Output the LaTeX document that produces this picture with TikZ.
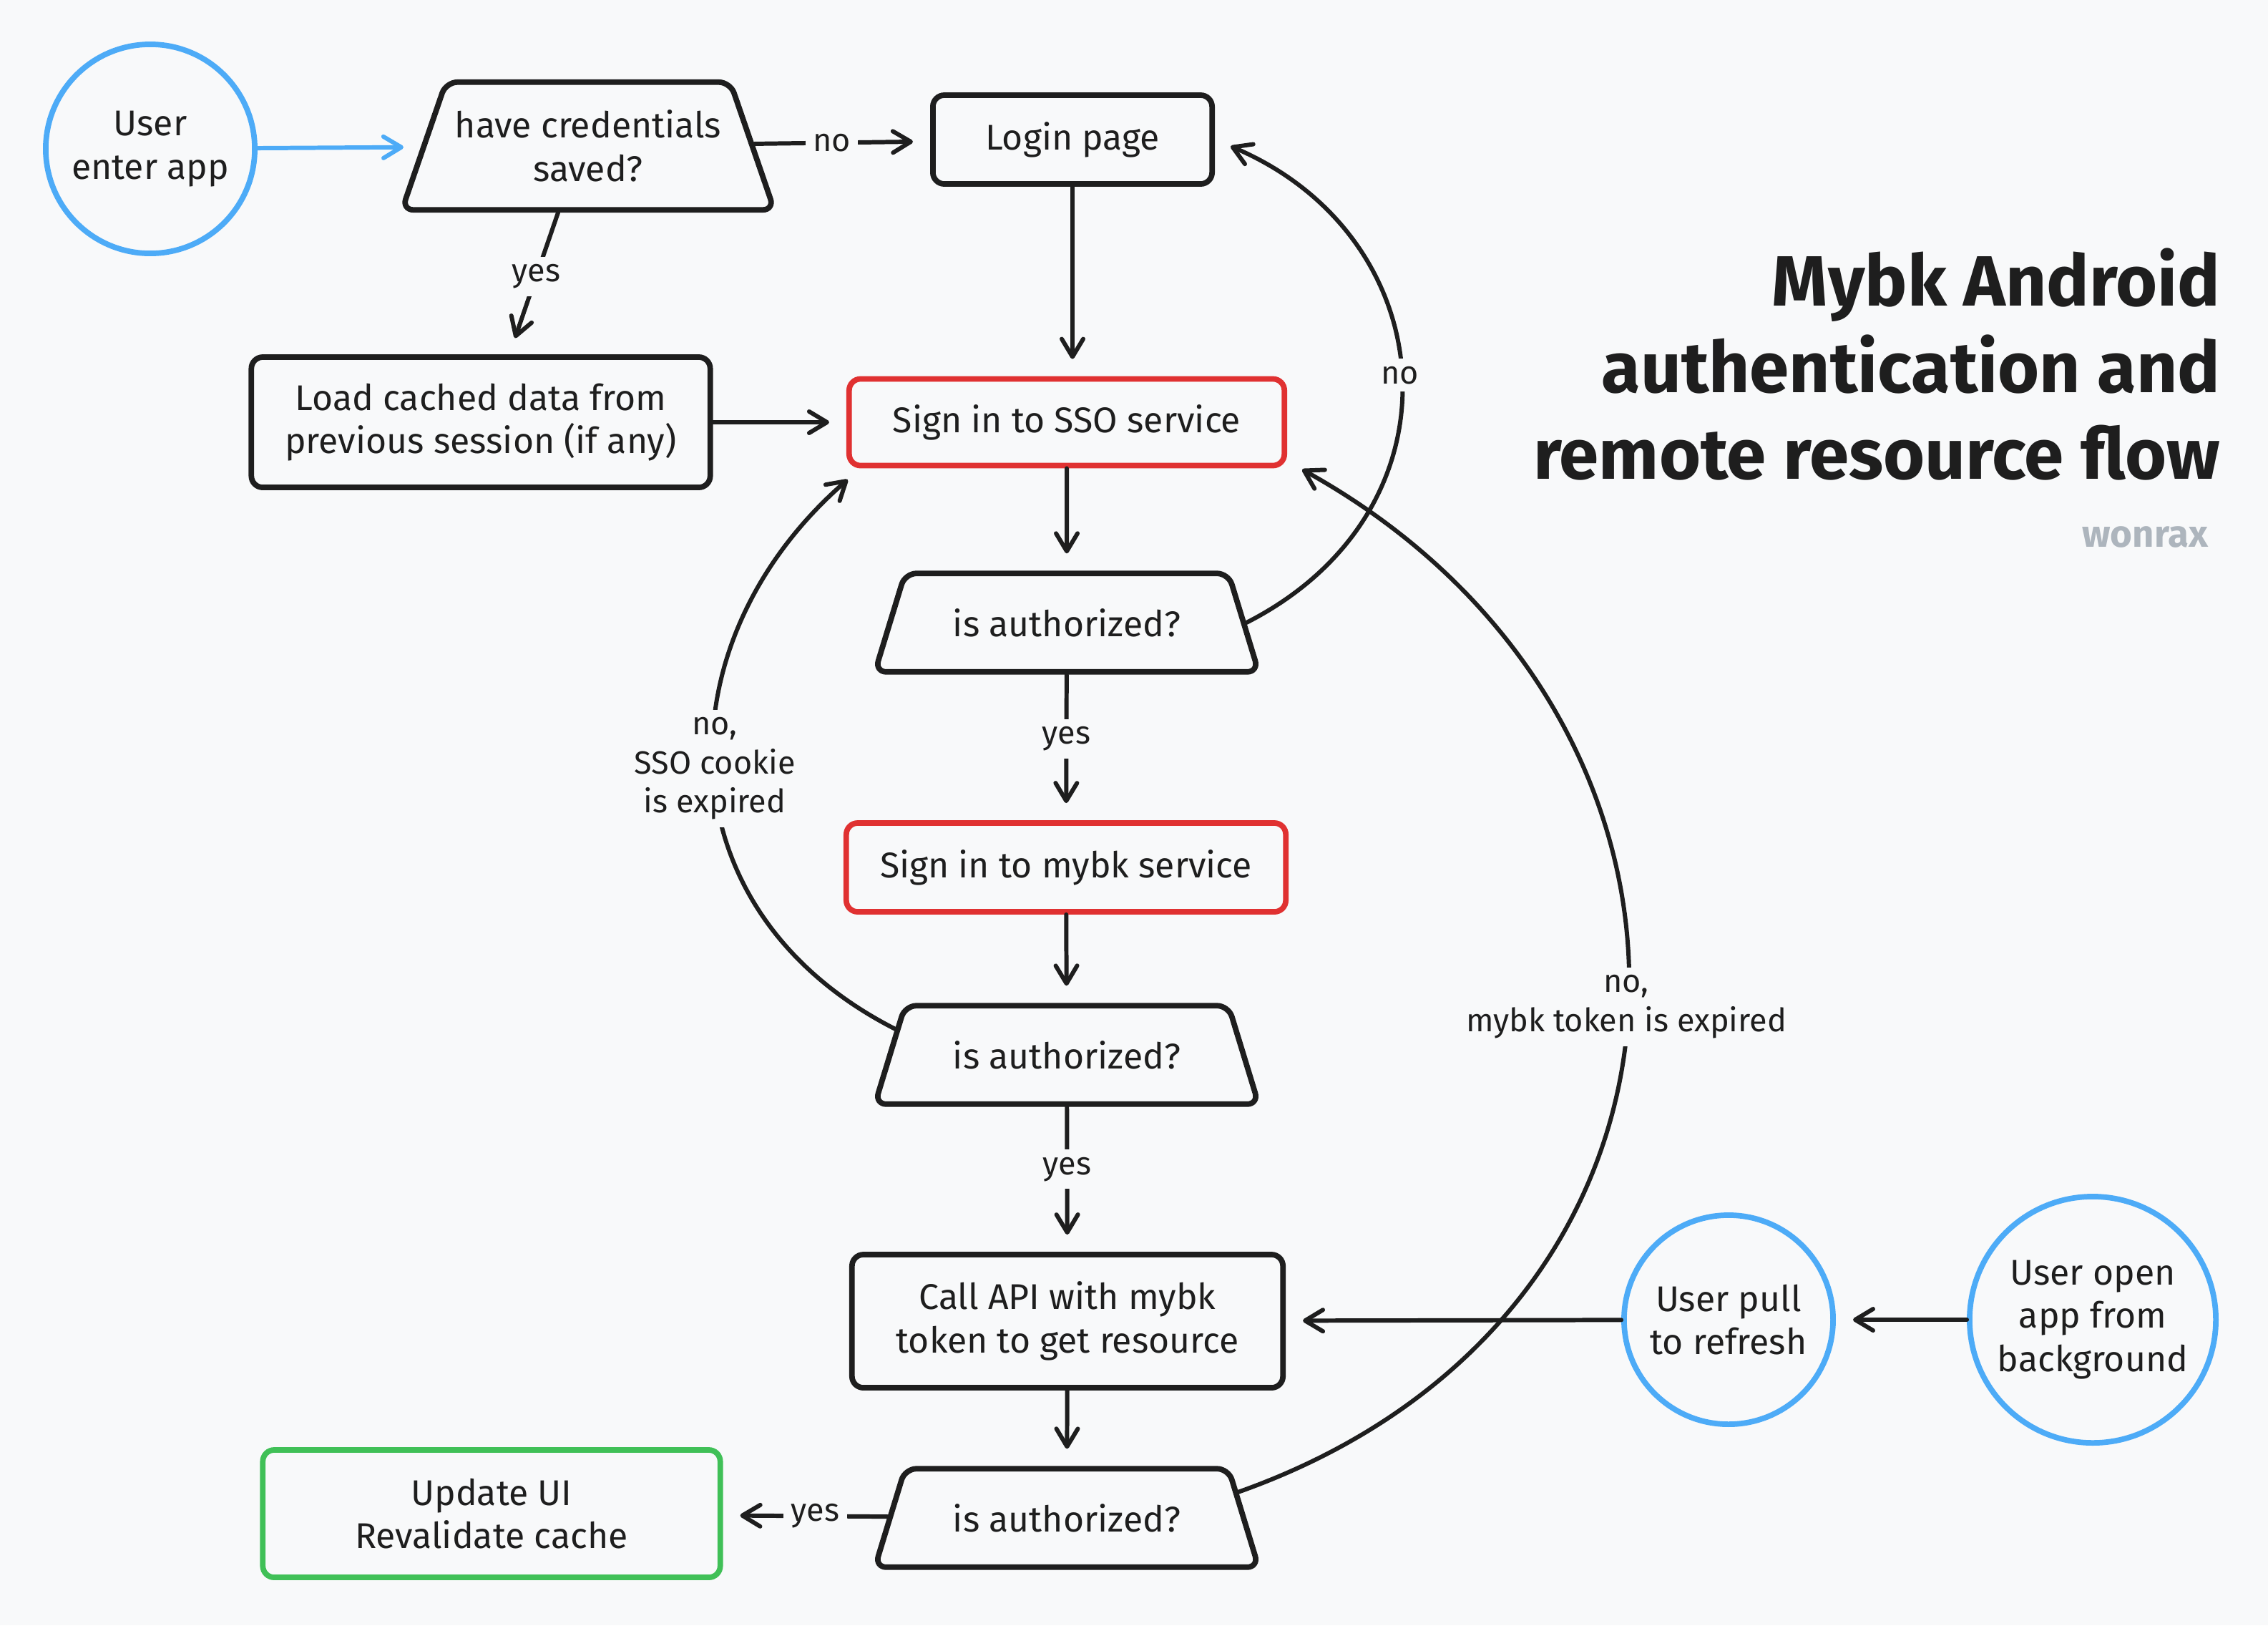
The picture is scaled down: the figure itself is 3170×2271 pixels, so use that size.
\documentclass[tikz,border=0pt]{standalone}
\usepackage{fontspec}
\setmainfont{Fira Sans}
\usetikzlibrary{shapes.geometric,arrows.meta,calc}
\definecolor{bg}{HTML}{F8F9FA}
\definecolor{ink}{HTML}{1E1E1E}
\definecolor{sred}{HTML}{E03131}
\definecolor{sgreen}{HTML}{40C057}
\definecolor{sblue}{HTML}{4DABF7}
\definecolor{sgray}{HTML}{ADB5BD}
\tikzset{
  box/.style={draw=ink, line width=2.2pt, rounded corners=0.16cm, fill=bg, align=center,
    font=\fontsize{14.2}{17.3}\selectfont, text=ink, inner sep=0pt},
  redbox/.style={box, draw=sred},
  greenbox/.style={box, draw=sgreen},
  decision/.style={box, trapezium, trapezium left angle=73, trapezium right angle=73,
    trapezium stretches body=true, inner xsep=0pt},
  startnode/.style={circle, draw=sblue, line width=2.2pt, fill=bg, align=center,
    font=\fontsize{14.2}{17.3}\selectfont, text=ink, inner sep=0pt},
  conn/.style={draw=ink, line width=1.7pt, line cap=round,
    -{Straight Barb[length=0.25cm,width=0.3cm,round]}, shorten >=0.24cm},
  lbl/.style={fill=bg, font=\fontsize{12.8}{15.5}\selectfont, text=ink, align=center, inner sep=3pt},
}
\begin{document}
\begin{tikzpicture}[x=0.01cm,y=-0.01cm]
\fill[bg] (0,0) rectangle (3170,2271);
\useasboundingbox (0,0) rectangle (3170,2271);

% nodes
\node[startnode, minimum size=2.92cm] (u1) at (210,208) {User\\enter app};
\node[decision, minimum width=5.2cm, inner ysep=0.39cm, trapezium left angle=71, trapezium right angle=71] (cred) at (822,204) {have credentials\\saved?};
\node[box, minimum width=3.9cm, minimum height=1.24cm] (login) at (1499,195) {Login page};
\node[box, minimum width=6.41cm, minimum height=1.82cm] (load) at (672,590) {Load cached data from\\previous session (if any)};
\node[redbox, minimum width=6.08cm, minimum height=1.21cm] (sso) at (1491,590) {Sign in to SSO service};
\node[decision, minimum width=5.36cm, inner ysep=0.49cm] (auth1) at (1491,870) {is authorized?};
\node[redbox, minimum width=6.14cm, minimum height=1.24cm] (mybk) at (1490,1212) {Sign in to mybk service};
\node[decision, minimum width=5.36cm, inner ysep=0.49cm] (auth2) at (1491,1474) {is authorized?};
\node[box, minimum width=6.02cm, minimum height=1.86cm] (call) at (1492,1846) {Call API with mybk\\token to get resource};
\node[decision, minimum width=5.36cm, inner ysep=0.49cm] (auth3) at (1491,2121) {is authorized?};
\node[greenbox, minimum width=6.39cm, minimum height=1.78cm] (upd) at (687,2115) {Update UI\\Revalidate cache};
\node[startnode, minimum size=2.92cm] (pull) at (2416,1844) {User pull\\to refresh};
\node[startnode, minimum size=3.44cm] (open) at (2925,1844) {User open\\app from\\background};

% title
\node[anchor=east, align=right, inner sep=0pt, text=ink, font=\fontsize{28.3}{34.4}\selectfont\bfseries] (title) at (3104,509)
  {Mybk Android\\authentication and\\remote resource flow};
\node[anchor=east, inner sep=0pt, text=sgray, font=\fontsize{15}{18}\selectfont\bfseries] (sig) at (3087,750) {wonrax};

% straight connectors
\draw[conn, draw=sblue] (u1) -- (cred);
\draw[conn] (cred) -- node[lbl, pos=0.44] {no} (login);
\draw[conn] ([xshift=-0.42cm]cred.south) -- node[lbl, pos=0.45] {yes} ([xshift=0.4cm]load.north);
\draw[conn] (login.south) -- (login.south |- sso.north);
\draw[conn] (load) -- (sso);
\draw[conn] (sso) -- (auth1);
\draw[conn] (auth1) -- node[lbl, pos=0.44] {yes} (mybk);
\draw[conn] (mybk) -- (auth2);
\draw[conn] (auth2) -- node[lbl, pos=0.43] {yes} (call);
\draw[conn] (call) -- (auth3);
\draw[conn] (auth3) -- node[lbl, pos=0.44] {yes} (upd);
\draw[conn] (pull) -- (call);
\draw[conn] (open) -- (pull);

% curved connectors
\draw[conn] (auth1.east) .. controls +(27:3.48cm) and +(-23:3.48cm) .. node[lbl, pos=0.5] {no} (login.east);
\draw[conn] ($(auth2.top left corner)!0.25!(auth2.bottom left corner)$)
  .. controls +(153:3.69cm) and +(221:3.69cm) .. node[lbl, pos=0.5] {no,\\SSO cookie\\is expired} ([xshift=0.2cm]sso.south west);
\draw[conn] ($(auth3.top right corner)!0.25!(auth3.bottom right corner)$)
  .. controls +(19.5:7.45cm) and +(-29:7.45cm) .. node[lbl, pos=0.5] {no,\\mybk token is expired} ([yshift=0.1cm]sso.south east);
\end{tikzpicture}
\end{document}
